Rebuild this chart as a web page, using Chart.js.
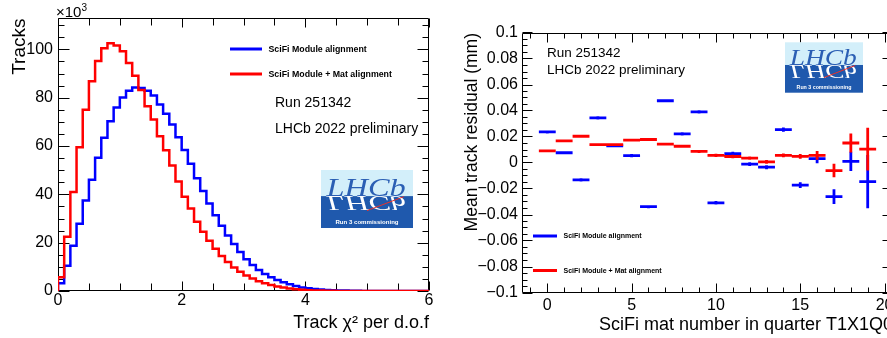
<!DOCTYPE html>
<html><head><meta charset="utf-8">
<script src="https://cdn.jsdelivr.net/npm/chart.js@4.4.0/dist/chart.umd.min.js"></script>
<style>
html,body{margin:0;padding:0;background:#fff;overflow:hidden;width:887px;height:338px;position:relative;}
#w1{position:absolute;left:0;top:0;width:440px;height:338px;}
#w2{position:absolute;left:440px;top:0;width:460px;height:338px;}
canvas{display:block;}
</style></head><body>
<div id="w1"><canvas id="c1" width="440" height="338"></canvas></div>
<div id="w2"><canvas id="c2" width="460" height="338"></canvas></div>
<script>
// ---------- data ----------
const chi2BinEdges = [0.0,0.1,0.2,0.3,0.4,0.5,0.6,0.7,0.8,0.9,1.0,1.1,1.2,1.3,1.4,1.5,1.6,1.7,1.8,1.9,
  2.0,2.1,2.2,2.3,2.4,2.5,2.6,2.7,2.8,2.9,3.0,3.1,3.2,3.3,3.4,3.5,3.6,3.7,3.8,3.9,
  4.0,4.1,4.2,4.3,4.4,4.5,4.6,4.7,4.8,4.9,5.0,5.1,5.2,5.3,5.4,5.5,5.6,5.7,5.8,5.9,6.0];
// tracks per bin, in units of 10^3
const tracksModule = [3.2,10.4,18.7,27.8,37.5,46.0,55.2,63.4,70.3,76.0,
  80.1,82.9,84.2,84.0,82.9,80.9,77.2,73.4,68.9,63.6,
  58.4,52.7,46.7,41.4,36.2,31.4,27.0,23.0,19.5,16.1,
  13.1,10.8,8.7,7.0,5.7,4.6,3.6,2.8,2.1,1.5,
  1.1,0.8,0.6,0.45,0.32,0.23,0.16,0.11,0.08,0.05,
  0.04,0.03,0.02,0.01,0.01,0.01,0,0,0,0];
const tracksModuleMat = [5.7,22.5,41.0,59.5,75.0,86.8,95.2,100.5,102.6,101.6,
  99.2,94.4,89.1,83.2,76.5,71.0,64.1,58.3,51.9,45.3,
  39.0,34.1,28.7,24.5,20.8,17.5,14.5,12.0,9.7,8.0,
  6.4,5.2,4.0,3.2,2.5,1.9,1.4,1.0,0.7,0.5,
  0.35,0.25,0.17,0.12,0.08,0.05,0.03,0.02,0.01,0.01,
  0,0,0,0,0,0,0,0,0,0];

const matNumbers = [0,1,2,3,4,5,6,7,8,9,10,11,12,13,14,15,16,17,18,19];
const residModule = [0.0235,0.0075,-0.0134,0.0343,0.0129,0.0053,-0.034,0.0475,0.0220,0.0389,
  -0.0310,0.0068,-0.0012,-0.0036,0.0253,-0.0174,0.0030,-0.0263,0.0008,-0.0147];
const residModuleErr = [0.0012,0.0012,0.0012,0.0012,0.0012,0.0012,0.0012,0.0012,0.0013,0.0013,
  0.0013,0.0014,0.0014,0.0015,0.0016,0.0022,0.0035,0.0057,0.0074,0.0205];
const residModuleMat = [0.0090,0.0167,0.0202,0.0138,0.0138,0.0172,0.0177,0.0142,0.0125,0.0085,
  0.0055,0.0046,0.0034,0.0005,0.0055,0.0047,0.0055,-0.0062,0.0150,0.0103];
const residModuleMatErr = [0.0010,0.0010,0.0010,0.0010,0.0010,0.0010,0.0010,0.0010,0.0012,0.0012,
  0.0012,0.0013,0.0013,0.0014,0.0015,0.0018,0.0034,0.0052,0.0074,0.0164];

const seriesNames = ['SciFi Module alignment', 'SciFi Module + Mat alignment'];
const BLUE = '#0000ff', RED = '#ff0000';
const SANS = "'Liberation Sans', Arial, Helvetica, sans-serif";

// ---------- helpers ----------
function histPoints(edges, vals) {
  const pts = [{x: edges[0], y: 0}];
  for (let i = 0; i < vals.length; i++) pts.push({x: edges[i], y: vals[i]});
  pts.push({x: edges[vals.length], y: vals[vals.length - 1]});
  return pts;
}

function drawFrame(chart, t) {
  const {ctx, chartArea: a, scales: {x, y}} = chart;
  ctx.save();
  ctx.strokeStyle = '#000';
  ctx.lineWidth = 1;
  const L = Math.round(a.left) + 0.5, R = Math.round(a.right) - 0.5;
  const T = Math.round(a.top) + 0.5, B = Math.round(a.bottom) - 0.5;
  ctx.beginPath();
  ctx.rect(L, T, R - L, B - T);
  const isMul = (v, s) => Math.abs(v / s - Math.round(v / s)) < 1e-6;
  let v0 = Math.ceil(x.min / t.xMinor - 1e-9) * t.xMinor;
  for (let v = v0; v <= x.max + 1e-9; v += t.xMinor) {
    const px = Math.round(x.getPixelForValue(v)) + 0.5;
    const len = isMul(v, t.xMajor) ? t.xMajLen : t.xMinLen;
    ctx.moveTo(px, B); ctx.lineTo(px, B - len);
    ctx.moveTo(px, T); ctx.lineTo(px, T + len);
  }
  v0 = Math.ceil(y.min / t.yMinor - 1e-9) * t.yMinor;
  for (let v = v0; v <= y.max + 1e-9; v += t.yMinor) {
    const py = Math.round(y.getPixelForValue(v)) + 0.5;
    const len = isMul(v, t.yMajor) ? t.yMajLen : t.yMinLen;
    ctx.moveTo(L, py); ctx.lineTo(L + len, py);
    ctx.moveTo(R, py); ctx.lineTo(R - len, py);
  }
  ctx.stroke();
  ctx.restore();
}

function drawLogo(ctx, x, y, w, h) {
  const split = y + h * 0.45;
  ctx.save();
  ctx.fillStyle = '#d3effa';
  ctx.fillRect(x, y, w, split - y);
  ctx.fillStyle = '#1f59ad';
  ctx.fillRect(x, split, w, y + h - split);
  const fs = h * 0.44;
  ctx.font = `italic ${fs}px 'Liberation Serif', 'DejaVu Serif', serif`;
  ctx.textBaseline = 'alphabetic';
  ctx.textAlign = 'left';
  const tw = ctx.measureText('LHCb').width;
  const sx = (w * 0.86) / tw;
  ctx.save();
  ctx.translate(x + w * 0.06, split);
  ctx.scale(sx, 1.0);
  ctx.fillStyle = '#2b5fb4';
  ctx.fillText('LHCb', 0, 0);
  ctx.restore();
  ctx.save();
  ctx.translate(x + w * 0.06, split);
  ctx.scale(sx, -0.85);
  ctx.fillStyle = '#ffffff';
  ctx.fillText('LHCb', 0, 0);
  ctx.restore();
  ctx.strokeStyle = '#e8312a';
  ctx.lineWidth = 1;
  ctx.beginPath();
  ctx.moveTo(x + w * 0.5, y + h * 0.7);
  ctx.lineTo(x + w * 0.9, y + h * 0.46);
  ctx.stroke();
  ctx.fillStyle = '#ffffff';
  ctx.font = `bold ${h * 0.105}px ${SANS}`;
  ctx.textAlign = 'center';
  ctx.textBaseline = 'middle';
  ctx.fillText('Run 3 commissioning', x + w * 0.5, y + h * 0.9);
  ctx.restore();
}

function drawLegendEntry(ctx, x1, x2, y, color, text, fs) {
  ctx.save();
  ctx.strokeStyle = color;
  ctx.lineWidth = 3;
  ctx.beginPath(); ctx.moveTo(x1, y); ctx.lineTo(x2, y); ctx.stroke();
  ctx.fillStyle = '#000';
  ctx.font = `bold ${fs}px ${SANS}`;
  ctx.textAlign = 'left';
  ctx.textBaseline = 'middle';
  ctx.fillText(text, x2 + 6.5, y + 0.5);
  ctx.restore();
}

function text(ctx, s, x, y, fs, align, rot) {
  ctx.save();
  ctx.fillStyle = '#000';
  ctx.font = `${fs}px ${SANS}`;
  ctx.textAlign = align || 'left';
  ctx.textBaseline = 'alphabetic';
  ctx.translate(x, y);
  if (rot) ctx.rotate(rot);
  ctx.fillText(s, 0, 0);
  ctx.restore();
}

// ---------- left chart ----------
const leftPlugin = {
  id: 'leftDecor',
  beforeDatasetsDraw(chart) {
    drawFrame(chart, {xMinor: 0.5, xMajor: 2, xMajLen: 9, xMinLen: 7,
                      yMinor: 5, yMajor: 20, yMajLen: 11, yMinLen: 6});
  },
  afterDraw(chart) {
    const ctx = chart.ctx;
    text(ctx, '\u00d710', 56, 17, 15, 'left');
    ctx.save(); ctx.font = `15px ${SANS}`; const w = ctx.measureText('\u00d710').width; ctx.restore();
    text(ctx, '3', 56 + w, 11, 10, 'left');
    text(ctx, 'Tracks', 25, 18.5, 19, 'right', -Math.PI / 2);
    text(ctx, 'Track \u03c7\u00b2 per d.o.f', 429, 327.5, 18, 'right');
    drawLegendEntry(ctx, 230, 262, 49, BLUE, seriesNames[0], 8.8);
    drawLegendEntry(ctx, 230, 262, 74, RED, seriesNames[1], 8.8);
    text(ctx, 'Run 251342', 275, 107, 14, 'left');
    text(ctx, 'LHCb 2022 preliminary', 275, 132.5, 14, 'left');
    drawLogo(ctx, 321, 170, 92, 58);
  }
};

new Chart(document.getElementById('c1'), {
  type: 'line',
  data: {
    datasets: [
      {label: seriesNames[0], data: histPoints(chi2BinEdges, tracksModule),
       borderColor: BLUE, borderWidth: 2.5, pointRadius: 0, stepped: 'before', order: 1, fill: false},
      {label: seriesNames[1], data: histPoints(chi2BinEdges, tracksModuleMat),
       borderColor: RED, borderWidth: 2.5, pointRadius: 0, stepped: 'before', order: 0, fill: false}
    ]
  },
  options: {
    responsive: false, animation: false, devicePixelRatio: 1,
    layout: {padding: {left: 0, top: 18, right: 11, bottom: 0}},
    plugins: {legend: {display: false}, tooltip: {enabled: false}},
    scales: {
      x: {type: 'linear', min: 0, max: 6,
          grid: {display: false, drawTicks: false}, border: {display: false},
          ticks: {stepSize: 2, includeBounds: false, color: '#000', padding: 0, maxRotation: 0,
                  font: {family: SANS, size: 16}},
          afterFit: s => { s.height = 47; }},
      y: {type: 'linear', min: 0, max: 113,
          grid: {display: false, drawTicks: false}, border: {display: false},
          ticks: {stepSize: 20, includeBounds: false, color: '#000', padding: 5,
                  font: {family: SANS, size: 16}},
          afterFit: s => { s.width = 58; }}
    }
  },
  plugins: [leftPlugin]
});

// ---------- right chart ----------
const rightPlugin = {
  id: 'rightDecor',
  beforeDatasetsDraw(chart) {
    drawFrame(chart, {xMinor: 1, xMajor: 5, xMajLen: 9, xMinLen: 5,
                      yMinor: 0.005, yMajor: 0.02, yMajLen: 10, yMinLen: 5});
  },
  afterDatasetsDraw(chart) {
    const ctx = chart.ctx, xs = chart.scales.x, ys = chart.scales.y;
    chart.data.datasets.forEach((ds, di) => {
      const meta = chart.getDatasetMeta(di);
      ctx.save();
      ctx.strokeStyle = ds.borderColor;
      ctx.lineWidth = 2.8;
      ctx.beginPath();
      meta.data.forEach((el, i) => {
        const p = ds.data[i];
        const xl = xs.getPixelForValue(p.x - 0.5), xr = xs.getPixelForValue(p.x + 0.5);
        const yt = ys.getPixelForValue(p.y + ds.errors[i]), yb = ys.getPixelForValue(p.y - ds.errors[i]);
        ctx.moveTo(xl, el.y); ctx.lineTo(xr, el.y);
        ctx.moveTo(el.x, yt); ctx.lineTo(el.x, yb);
      });
      ctx.stroke();
      ctx.restore();
    });
  },
  afterDraw(chart) {
    const ctx = chart.ctx;
    text(ctx, 'Mean track residual (mm)', 36.5, 33, 17.5, 'right', -Math.PI / 2);
    text(ctx, 'SciFi mat number in quarter T1X1Q0', 453, 330, 18, 'right');
    text(ctx, 'Run 251342', 107, 57, 13.5, 'left');
    text(ctx, 'LHCb 2022 preliminary', 107, 74, 13.5, 'left');
    drawLegendEntry(ctx, 93, 117, 236, BLUE, seriesNames[0], 7);
    drawLegendEntry(ctx, 93, 117, 270.5, RED, seriesNames[1], 7);
    drawLogo(ctx, 345, 42.3, 78, 50.4);
  }
};

new Chart(document.getElementById('c2'), {
  type: 'scatter',
  data: {
    datasets: [
      {label: seriesNames[0], data: matNumbers.map((m, i) => ({x: m, y: residModule[i]})),
       errors: residModuleErr, borderColor: BLUE, backgroundColor: BLUE, pointRadius: 0, showLine: false},
      {label: seriesNames[1], data: matNumbers.map((m, i) => ({x: m, y: residModuleMat[i]})),
       errors: residModuleMatErr, borderColor: RED, backgroundColor: RED, pointRadius: 0, showLine: false}
    ]
  },
  options: {
    responsive: false, animation: false, devicePixelRatio: 1,
    layout: {padding: {left: 0, top: 32.5, right: 7, bottom: 0}},
    plugins: {legend: {display: false}, tooltip: {enabled: false}},
    scales: {
      x: {type: 'linear', min: -1.5, max: 20.5,
          grid: {display: false, drawTicks: false}, border: {display: false},
          ticks: {stepSize: 5, includeBounds: false, color: '#000', padding: 3, maxRotation: 0,
                  font: {family: SANS, size: 16}},
          afterFit: s => { s.height = 45.5; }},
      y: {type: 'linear', min: -0.1, max: 0.1,
          grid: {display: false, drawTicks: false}, border: {display: false},
          ticks: {stepSize: 0.02, includeBounds: false, color: '#000', padding: 4,
                  font: {family: SANS, size: 16},
                  callback: v => parseFloat(Number(v).toFixed(3)).toString().replace('-', '\u2212')},
          afterFit: s => { s.width = 82; }}
    }
  },
  plugins: [rightPlugin]
});
</script>
</body></html>
